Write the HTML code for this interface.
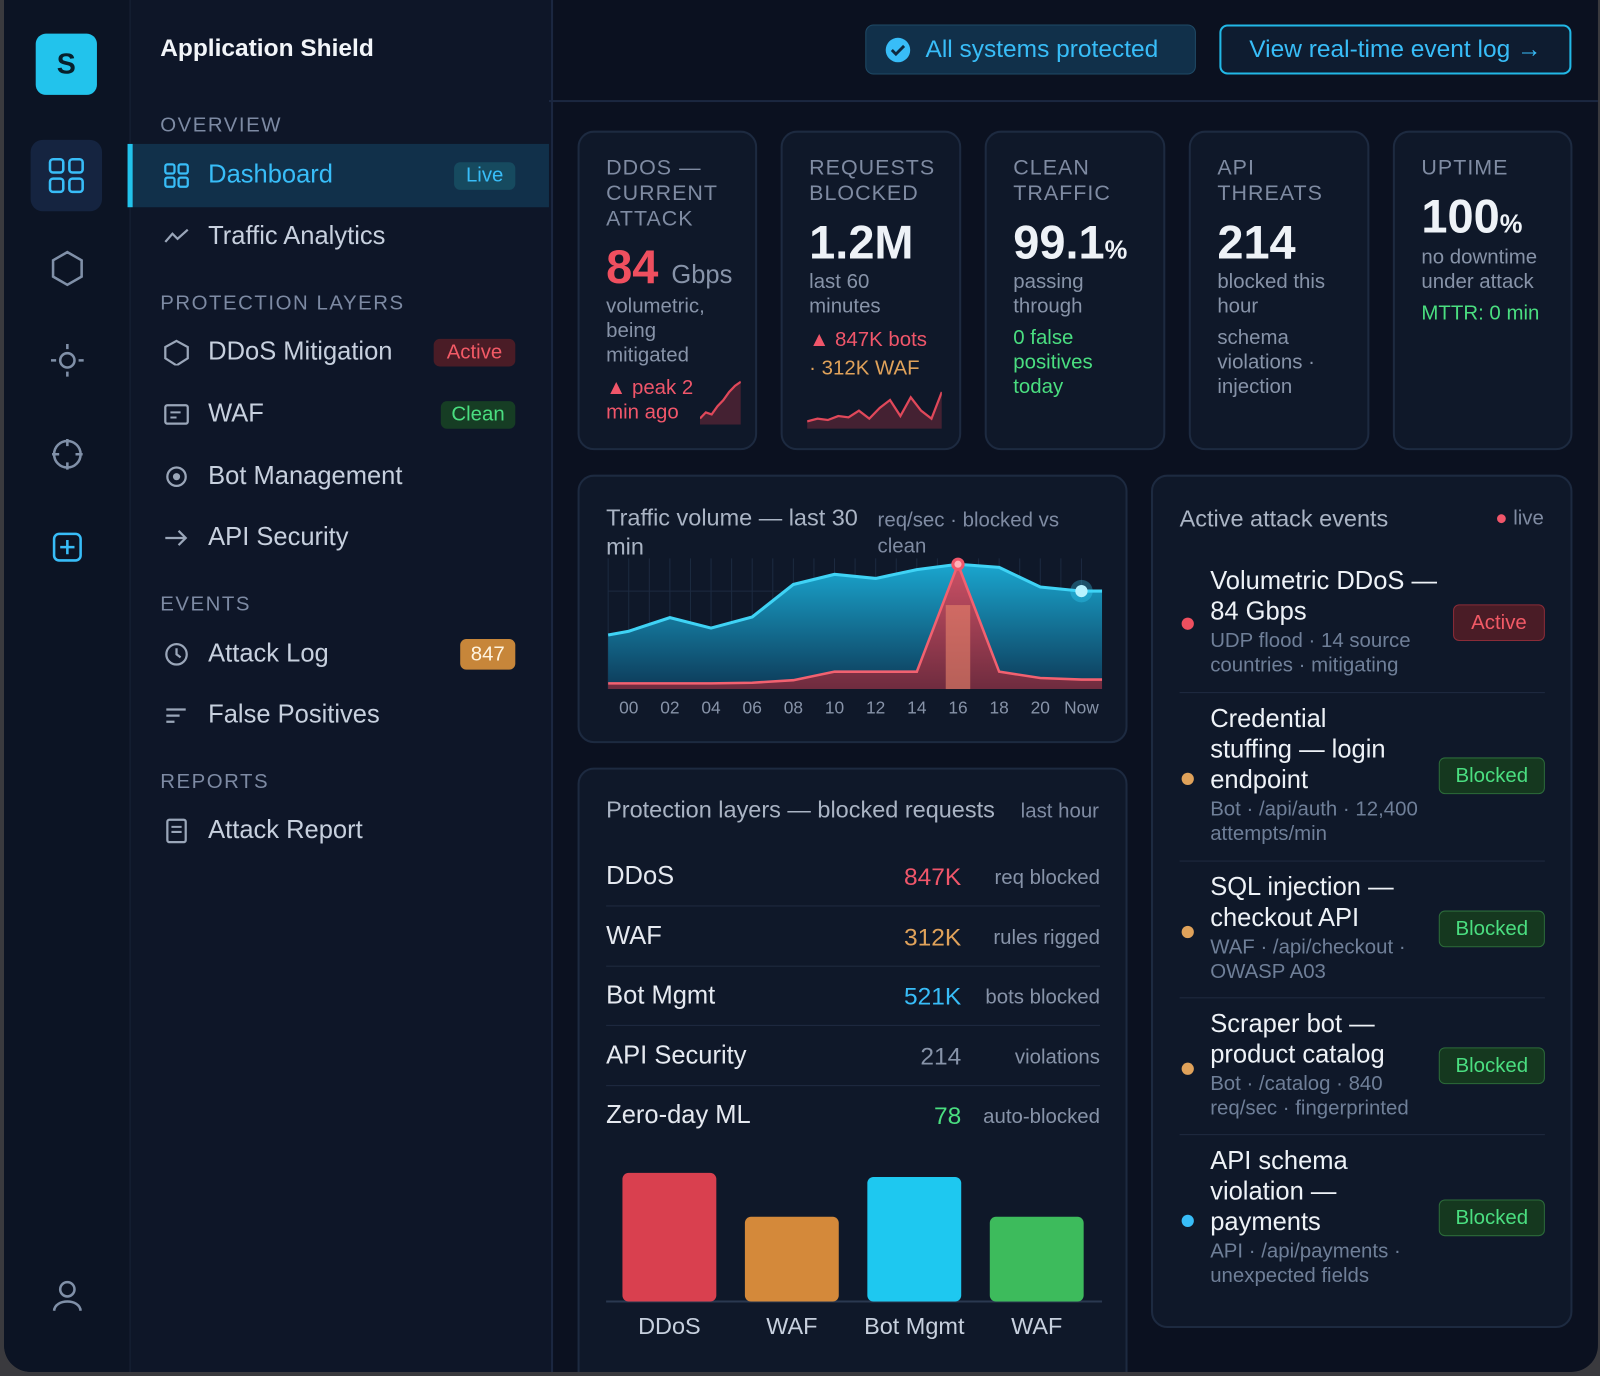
<!DOCTYPE html>
<html><head><meta charset="utf-8"><style>
*{box-sizing:border-box;margin:0;padding:0}
html,body{width:1600px;height:1376px;overflow:hidden;background:#3a3a3e;font-family:"Liberation Sans",sans-serif}
#root{position:absolute;left:0;top:0;width:1568px;height:1348px;transform:scale(1.0204,1.0208);transform-origin:0 0}
.win{position:absolute;left:4px;top:0;width:1562px;height:1344px;background:#0b1120;border-radius:0 0 26px 26px;overflow:hidden}
.abs{position:absolute}
.rail{left:0;top:0;width:124px;height:1348px;background:#0c1424;border-right:1px solid #1a2538}
.side{left:124px;top:0;width:414px;height:1348px;background:#0e1628;border-right:2px solid #1b2740}
.sec{position:absolute;left:153px;color:#7d8aa3;font-size:20px;letter-spacing:1.5px}
.item{position:absolute;left:200px;color:#c7d0de;font-size:25px}
.ico{position:absolute;left:156px;width:26px;height:26px;color:#9aa6b9}
.badge{position:absolute;border-radius:6px;font-size:20px;text-align:center;line-height:26px;height:27px}
.card{position:absolute;background:#0f1829;border:2px solid #1d2a40;border-radius:16px}
.lab{position:absolute;left:26px;top:22px;color:#7f8ba2;font-size:21px;line-height:25px;letter-spacing:1px}
.big{position:absolute;left:26px;color:#eef2f7;font-size:46px;font-weight:bold}
.sub{position:absolute;left:26px;font-size:20px;line-height:24px;color:#8793a8}
.prow{position:absolute;left:26px;width:484px;height:58px;border-bottom:1px solid #1f2b40}
.prow .n{position:absolute;left:0;top:14px;color:#e5e9f0;font-size:25px}
.prow .v{position:absolute;right:136px;top:16px;font-size:24px;text-align:right}
.prow .u{position:absolute;right:0;top:19px;font-size:20px;color:#8793a8}
.ev{position:absolute;left:26px;width:358px;border-bottom:1px solid #1f2b40}
.ev .t{position:absolute;left:30px;color:#eef2f7;font-size:25px;line-height:30px;width:230px}
.ev .s{color:#6f7f98;font-size:20px;line-height:24px;margin-top:2px}
.ev .d{position:absolute;left:2px;width:12px;height:12px;border-radius:6px}
.ev .b{position:absolute;right:0;height:36px;border-radius:6px;font-size:20px;line-height:34px;text-align:center;width:104px;background:#15381f;border:1px solid #2c6b3a;color:#4ade80}
</style></head><body>
<div id="root">
<div class="win">
 <div class="abs rail">
  <div class="abs" style="left:31px;top:33px;width:60px;height:60px;background:#22c3ec;border-radius:10px;color:#07202c;font-weight:bold;font-size:28px;text-align:center;line-height:60px">S</div>
  <div class="abs" style="left:26px;top:137px;width:70px;height:70px;background:#152440;border-radius:12px">
   <svg width="70" height="70"><g fill="none" stroke="#38bdf8" stroke-width="2.5"><rect x="19" y="19" width="13" height="13" rx="3"/><rect x="38" y="19" width="13" height="13" rx="3"/><rect x="19" y="38" width="13" height="13" rx="3"/><rect x="38" y="38" width="13" height="13" rx="3"/></g></svg></div>
  <svg class="abs" style="left:44px;top:243px" width="36" height="40"><path d="M18 4 L32 12 V28 L18 36 L4 28 V12 Z" fill="none" stroke="#8090a8" stroke-width="2.5"/></svg>
  <svg class="abs" style="left:44px;top:333px" width="36" height="40"><circle cx="18" cy="20" r="7" fill="none" stroke="#8090a8" stroke-width="2.5"/><g stroke="#8090a8" stroke-width="2.5"><line x1="18" y1="4" x2="18" y2="9"/><line x1="18" y1="31" x2="18" y2="36"/><line x1="2" y1="20" x2="7" y2="20"/><line x1="29" y1="20" x2="34" y2="20"/></g></svg>
  <svg class="abs" style="left:44px;top:425px" width="36" height="40"><circle cx="18" cy="20" r="13" fill="none" stroke="#8090a8" stroke-width="2.5"/><g stroke="#8090a8" stroke-width="2.5"><line x1="18" y1="5" x2="18" y2="12"/><line x1="18" y1="28" x2="18" y2="35"/><line x1="3" y1="20" x2="10" y2="20"/><line x1="26" y1="20" x2="33" y2="20"/></g></svg>
  <svg class="abs" style="left:44px;top:516px" width="36" height="40"><rect x="5" y="7" width="26" height="26" rx="5" fill="none" stroke="#38bdf8" stroke-width="2.5"/><g stroke="#38bdf8" stroke-width="2.5"><line x1="18" y1="13" x2="18" y2="27"/><line x1="11" y1="20" x2="25" y2="20"/></g></svg>
  <svg class="abs" style="left:44px;top:1250px" width="36" height="40"><circle cx="18" cy="13" r="7" fill="none" stroke="#8090a8" stroke-width="2.5"/><path d="M5 34 C6 22 30 22 31 34" fill="none" stroke="#8090a8" stroke-width="2.5"/></svg>
 </div>
 <div class="abs side"></div>
 <div class="abs" style="left:153px;top:34px;color:#f2f5f9;font-size:24px;font-weight:bold">Application Shield</div>
 <div class="sec" style="top:112px">OVERVIEW</div>
 <div class="abs" style="left:121px;top:141px;width:413px;height:62px;background:#11304a;border-left:5px solid #22c3ec"></div>
 <svg class="ico" style="top:159px" width="26" height="26"><g fill="none" stroke="#38bdf8" stroke-width="2.2"><rect x="2" y="2" width="9" height="9" rx="2"/><rect x="15" y="2" width="9" height="9" rx="2"/><rect x="2" y="15" width="9" height="9" rx="2"/><rect x="15" y="15" width="9" height="9" rx="2"/></g></svg>
 <div class="item" style="top:157px;color:#38bdf8">Dashboard</div>
 <div class="badge" style="left:441px;top:159px;width:60px;background:#164a5f;color:#38bdf8">Live</div>
 <svg class="ico" style="top:219px" width="26" height="26"><polyline points="2,18 9,10 14,15 24,6" fill="none" stroke="#9aa6b9" stroke-width="2.2"/></svg>
 <div class="item" style="top:217px">Traffic Analytics</div>
 <div class="sec" style="top:286px">PROTECTION LAYERS</div>
 <svg class="ico" style="top:332px" width="26" height="28"><path d="M13 2 L24 8 V19 L13 26 L2 19 V8 Z" fill="none" stroke="#9aa6b9" stroke-width="2.2"/></svg>
 <div class="item" style="top:330px">DDoS Mitigation</div>
 <div class="badge" style="left:421px;top:332px;width:80px;background:#4a1c26;color:#f25a66">Active</div>
 <svg class="ico" style="top:393px" width="26" height="26"><rect x="2" y="4" width="22" height="18" rx="2" fill="none" stroke="#9aa6b9" stroke-width="2.2"/><line x1="7" y1="11" x2="17" y2="11" stroke="#9aa6b9" stroke-width="2"/><line x1="7" y1="16" x2="13" y2="16" stroke="#9aa6b9" stroke-width="2"/></svg>
 <div class="item" style="top:391px">WAF</div>
 <div class="badge" style="left:428px;top:393px;width:73px;background:#163d24;color:#4ade80">Clean</div>
 <svg class="ico" style="top:454px" width="26" height="26"><circle cx="13" cy="13" r="9" fill="none" stroke="#9aa6b9" stroke-width="2.2"/><circle cx="13" cy="13" r="3.5" fill="#9aa6b9"/></svg>
 <div class="item" style="top:452px">Bot Management</div>
 <svg class="ico" style="top:514px" width="26" height="26"><path d="M2 13 H22 M15 6 L22 13 L15 20" fill="none" stroke="#9aa6b9" stroke-width="2.2"/></svg>
 <div class="item" style="top:512px">API Security</div>
 <div class="sec" style="top:581px">EVENTS</div>
 <svg class="ico" style="top:628px" width="26" height="26"><circle cx="13" cy="13" r="10" fill="none" stroke="#9aa6b9" stroke-width="2.2"/><path d="M13 7 V13 L17 16" fill="none" stroke="#9aa6b9" stroke-width="2.2"/></svg>
 <div class="item" style="top:626px">Attack Log</div>
 <div class="badge" style="left:447px;top:626px;width:54px;height:30px;line-height:30px;background:#c7863a;color:#fff4e0">847</div>
 <svg class="ico" style="top:688px" width="26" height="26"><g stroke="#9aa6b9" stroke-width="2.2"><line x1="3" y1="7" x2="22" y2="7"/><line x1="3" y1="13" x2="16" y2="13"/><line x1="3" y1="19" x2="11" y2="19"/></g></svg>
 <div class="item" style="top:686px">False Positives</div>
 <div class="sec" style="top:755px">REPORTS</div>
 <svg class="ico" style="top:801px" width="26" height="26"><rect x="4" y="2" width="18" height="22" rx="2" fill="none" stroke="#9aa6b9" stroke-width="2.2"/><g stroke="#9aa6b9" stroke-width="2"><line x1="8" y1="9" x2="18" y2="9"/><line x1="8" y1="14" x2="18" y2="14"/></g></svg>
 <div class="item" style="top:799px">Attack Report</div>

 <div class="abs" style="left:534px;top:0;width:1030px;height:100px;border-bottom:2px solid #1b2740"></div>
 <div class="abs" style="left:844px;top:24px;width:324px;height:49px;background:#11304a;border:1px solid #1f4a66;border-radius:8px;color:#38bdf8;font-size:24px;line-height:47px;padding-left:58px">
  <svg class="abs" style="left:18px;top:11px" width="26" height="26"><circle cx="13" cy="13" r="12" fill="#38bdf8"/><polyline points="7,13 11,17 19,9" fill="none" stroke="#0e2a40" stroke-width="2.8"/></svg>All systems protected</div>
 <div class="abs" style="left:1191px;top:24px;width:345px;height:49px;border:2px solid #22b8e6;border-radius:8px;color:#38bdf8;font-size:24px;line-height:45px;text-align:center;background:#0e1c30">View real-time event log →</div>

 <div class="card" style="left:562px;top:128px;width:176px;height:313px">
  <div class="lab">DDOS —<br>CURRENT<br>ATTACK</div>
  <div class="big" style="top:104px;color:#ef4f5f">84 <span style="font-size:25px;font-weight:normal;color:#8793a8">Gbps</span></div>
  <div class="sub" style="top:158px">volumetric,<br>being<br>mitigated</div>
  <div class="sub" style="top:238px;color:#f0566a">▲ peak 2<br>min ago</div>
  <svg class="abs" id="spark1" style="left:118px;top:240px" width="40" height="46"></svg>
 </div>
 <div class="card" style="left:761px;top:128px;width:177px;height:313px">
  <div class="lab">REQUESTS<br>BLOCKED</div>
  <div class="big" style="top:80px">1.2M</div>
  <div class="sub" style="top:134px">last 60<br>minutes</div>
  <div class="sub" style="top:191px;color:#f0566a">▲ 847K bots</div>
  <div class="sub" style="top:219px;color:#e0a25a">· 312K WAF</div>
  <svg class="abs" id="spark2" style="left:24px;top:250px" width="132" height="40"></svg>
 </div>
 <div class="card" style="left:961px;top:128px;width:177px;height:313px">
  <div class="lab">CLEAN<br>TRAFFIC</div>
  <div class="big" style="top:80px">99.1<span style="font-size:25px">%</span></div>
  <div class="sub" style="top:134px">passing<br>through</div>
  <div class="sub" style="top:189px;color:#4ade80">0 false<br>positives<br>today</div>
 </div>
 <div class="card" style="left:1161px;top:128px;width:177px;height:313px">
  <div class="lab">API<br>THREATS</div>
  <div class="big" style="top:80px">214</div>
  <div class="sub" style="top:134px">blocked this<br>hour</div>
  <div class="sub" style="top:189px">schema<br>violations ·<br>injection</div>
 </div>
 <div class="card" style="left:1361px;top:128px;width:176px;height:313px">
  <div class="lab">UPTIME</div>
  <div class="big" style="top:55px">100<span style="font-size:25px">%</span></div>
  <div class="sub" style="top:110px">no downtime<br>under attack</div>
  <div class="sub" style="top:165px;color:#4ade80">MTTR: 0 min</div>
 </div>

 <div class="card" style="left:562px;top:465px;width:539px;height:263px">
  <div class="abs" style="left:26px;top:26px;color:#aab4c4;font-size:23px;line-height:28px;width:260px">Traffic volume — last 30 min</div>
  <div class="abs" style="left:292px;top:31px;color:#7f8ba2;font-size:20px;line-height:25px;width:200px">req/sec · blocked vs clean</div>
  <svg class="abs" id="tchart" style="left:0;top:0" width="539" height="263"></svg>
 </div>

 <div class="card" style="left:562px;top:752px;width:539px;height:620px">
  <div class="abs" style="left:26px;top:26px;color:#aab4c4;font-size:23px">Protection layers — blocked requests</div>
  <div class="abs" style="right:26px;top:30px;color:#7f8ba2;font-size:20px">last hour</div>
  <div class="prow" style="top:76px"><span class="n">DDoS</span><span class="v" style="color:#f0566a">847K</span><span class="u">req blocked</span></div>
  <div class="prow" style="top:135px"><span class="n">WAF</span><span class="v" style="color:#e0a25a">312K</span><span class="u">rules rigged</span></div>
  <div class="prow" style="top:193px"><span class="n">Bot Mgmt</span><span class="v" style="color:#38bdf8">521K</span><span class="u">bots blocked</span></div>
  <div class="prow" style="top:252px"><span class="n">API Security</span><span class="v" style="color:#8793a8">214</span><span class="u">violations</span></div>
  <div class="prow" style="top:310px;border:none"><span class="n">Zero-day ML</span><span class="v" style="color:#4ade80">78</span><span class="u">auto-blocked</span></div>
  <svg class="abs" id="bchart" style="left:0;top:370px" width="539" height="200"></svg>
 </div>

 <div class="card" style="left:1124px;top:465px;width:413px;height:836px">
  <div class="abs" style="left:26px;top:28px;color:#aab4c4;font-size:23px">Active attack events</div>
  <div class="abs" style="right:26px;top:30px;color:#7f8ba2;font-size:20px"><span style="color:#f0566a">●</span> live</div>
  <div class="ev" style="top:85px;height:127px"><div class="d" style="top:53px;background:#ef4f5f"></div><div class="t" style="top:2px">Volumetric DDoS — 84 Gbps<div class="s">UDP flood · 14 source countries · mitigating</div></div><div class="b" style="top:40px;background:#4a1c26;border-color:#8a2c38;color:#f25a66;width:90px">Active</div></div>
  <div class="ev" style="top:222px;height:155px"><div class="d" style="top:68px;background:#e0a25a"></div><div class="t" style="top:0">Credential<br>stuffing — login<br>endpoint<div class="s">Bot · /api/auth · 12,400 attempts/min</div></div><div class="b" style="top:53px">Blocked</div></div>
  <div class="ev" style="top:387px;height:124px"><div class="d" style="top:53px;background:#e0a25a"></div><div class="t" style="top:0">SQL injection — checkout API<div class="s">WAF · /api/checkout · OWASP A03</div></div><div class="b" style="top:38px">Blocked</div></div>
  <div class="ev" style="top:521px;height:124px"><div class="d" style="top:53px;background:#e0a25a"></div><div class="t" style="top:0">Scraper bot — product catalog<div class="s">Bot · /catalog · 840 req/sec · fingerprinted</div></div><div class="b" style="top:38px">Blocked</div></div>
  <div class="ev" style="top:655px;height:150px;border:none"><div class="d" style="top:68px;background:#38bdf8"></div><div class="t" style="top:0">API schema violation — payments<div class="s">API · /api/payments · unexpected fields</div></div><div class="b" style="top:53px">Blocked</div></div>
 </div>
</div>
</div>
<script>
const NS='http://www.w3.org/2000/svg';
const timeLabels=['00','02','04','06','08','10','12','14','16','18','20','Now'];
const cleanValues=[183,226,193,228,331,363,350,378,395,385,323,310];
const blockedValues=[18,18,18,20,28,55,55,55,395,55,35,30];
const barCategories=['DDoS','WAF','Bot Mgmt','WAF'];
const barValues=[126,83,122,83];
const barColors=['#d9404f','#d4893a','#1ec8f0','#3dbb5c'];
const ddosSpark=[4,10,8,16,22,30,36,40];
const reqSpark=[4,6,5,8,7,12,6,14,20,8,22,12,6,26];
function el(t,a,p){const e=document.createElementNS(NS,t);for(const k in a)e.setAttribute(k,a[k]);p.appendChild(e);return e;}
(function(){
 const svg=document.getElementById('tchart');
 const x0=28,x1=512,base=208,plotTop=78,maxV=420;
 const xs=i=>x0+(i+0.5)*(x1-x0)/timeLabels.length;
 const ys=v=>base-v/maxV*(base-plotTop);
 const defs=el('defs',{},svg);
 const g1=el('linearGradient',{id:'cg',x1:0,y1:0,x2:0,y2:1},defs);
 el('stop',{offset:'0','stop-color':'#1aa6cf'},g1);el('stop',{offset:'1','stop-color':'#0d3a58'},g1);
 const g2=el('linearGradient',{id:'rg',x1:0,y1:0,x2:0,y2:1},defs);
 el('stop',{offset:'0','stop-color':'#e0485a'},g2);el('stop',{offset:'1','stop-color':'#7a2a3c'},g2);
 for(let i=0;i<24;i++){el('line',{x1:x0+i*(x1-x0)/24,x2:x0+i*(x1-x0)/24,y1:80,y2:base,stroke:'#1c2a40','stroke-width':1},svg);}
 el('line',{x1:x0,x2:x1,y1:ys(310),y2:ys(310),stroke:'#1c2a40'},svg);
 let pts=[[x0,ys(cleanValues[0]-12)]];cleanValues.forEach((v,i)=>pts.push([xs(i),ys(v)]));pts.push([x1,ys(cleanValues[cleanValues.length-1])]);
 const line=pts.map(p=>p.join(',')).join(' ');
 const area=el('polygon',{points:x0+','+base+' '+line+' '+x1+','+base,fill:'url(#cg)'},svg);
 
 const pl=el('polyline',{points:line,fill:'none',stroke:'#3fd3f5','stroke-width':3},svg);
 
 let rp=[[x0,ys(blockedValues[0])]];blockedValues.forEach((v,i)=>rp.push([xs(i),ys(v)]));rp.push([x1,ys(blockedValues[blockedValues.length-1])]);
 const rl=rp.map(p=>p.join(',')).join(' ');
 const ra=el('polygon',{points:x0+','+base+' '+rl+' '+x1+','+base,fill:'url(#rg)',opacity:0.9},svg);
 
 const rline=el('polyline',{points:rl,fill:'none',stroke:'#f26170','stroke-width':2.5},svg);
 
 const pk=blockedValues.indexOf(Math.max(...blockedValues));
 el('rect',{x:xs(pk)-12,y:ys(blockedValues[pk])+40,width:24,height:base-ys(blockedValues[pk])-40,fill:'#e8836a',opacity:0.6},svg);
 const pd=el('circle',{cx:xs(pk),cy:ys(blockedValues[pk]),r:5,fill:'#ffb0b8',stroke:'#f0566a','stroke-width':3},svg);
 
 const li=timeLabels.length-1;
 el('circle',{cx:xs(li),cy:ys(cleanValues[li]),r:11,fill:'#38d6ff',opacity:0.3},svg);
 const nd=el('circle',{cx:xs(li),cy:ys(cleanValues[li]),r:6,fill:'#b8f3ff'},svg);
 
 timeLabels.forEach((t,i)=>{const tx=el('text',{x:xs(i),y:232,'text-anchor':'middle',fill:'#8793a8','font-size':17,'font-family':'Liberation Sans'},svg);tx.textContent=t;
 });
})();
(function(){
 const svg=document.getElementById('bchart');
 const base=151,maxH=140,maxV=140,x0=42,step=120,w=92;
 const ys=v=>v/maxV*maxH;
 el('line',{x1:26,x2:512,y1:base,y2:base,stroke:'#2a3850','stroke-width':2},svg);
 barCategories.forEach((c,i)=>{const h=ys(barValues[i]);
  const r=el('rect',{x:x0+i*step,y:base-h,width:w,height:h,rx:6,fill:barColors[i]},svg);
  
  const t=el('text',{x:x0+i*step+w/2,y:base+32,'text-anchor':'middle',fill:'#c7d0de','font-size':23,'font-family':'Liberation Sans'},svg);t.textContent=c;
  });
})();
function spark(id,data,w,h,color){const svg=document.getElementById(id);const mx=Math.max(...data);
 const pts=data.map((v,i)=>[i*w/(data.length-1),h-2-v/mx*(h-6)]);
 el('polygon',{points:'0,'+h+' '+pts.map(p=>p.join(',')).join(' ')+' '+w+','+h,fill:'#7a2a3c',opacity:0.5},svg);
 const p=el('polyline',{points:pts.map(p=>p.join(',')).join(' '),fill:'none',stroke:color,'stroke-width':2.2},svg);
 }
spark('spark1',ddosSpark,40,46,'#e0485a');
spark('spark2',reqSpark,132,40,'#e0485a');
</script>
</body></html>
